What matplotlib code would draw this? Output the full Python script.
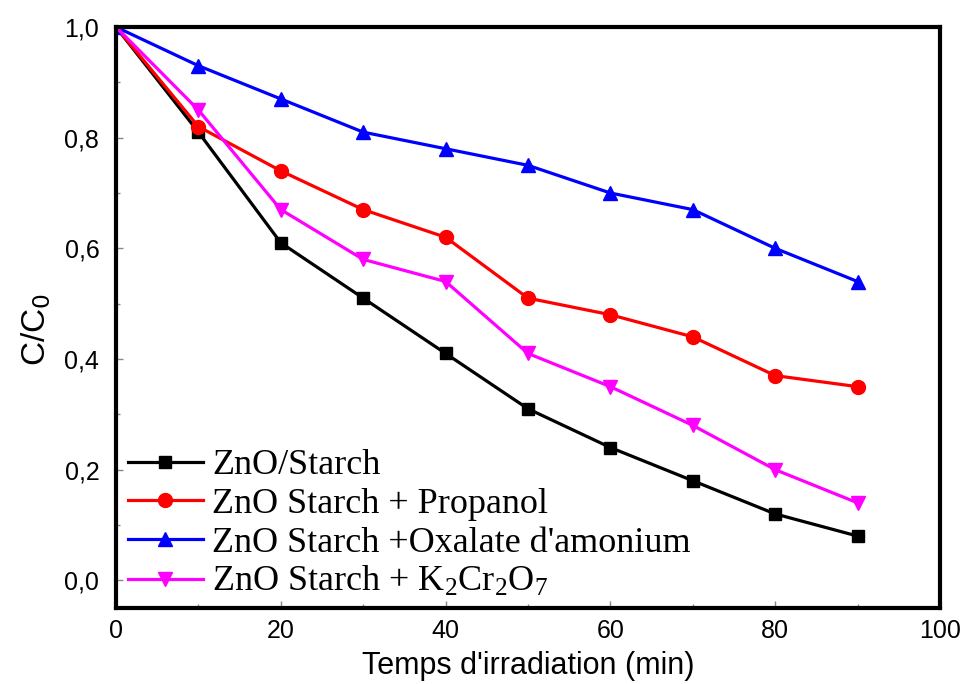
import matplotlib
matplotlib.use("Agg")
import matplotlib.pyplot as plt
from matplotlib.ticker import FuncFormatter, MultipleLocator

time = [0, 10, 20, 30, 40, 50, 60, 70, 80, 90]
zno_starch = [1.0, 0.81, 0.61, 0.51, 0.41, 0.31, 0.24, 0.18, 0.12, 0.08]
propanol = [1.0, 0.82, 0.74, 0.67, 0.62, 0.51, 0.48, 0.44, 0.37, 0.35]
oxalate = [1.0, 0.93, 0.87, 0.81, 0.78, 0.75, 0.70, 0.67, 0.60, 0.54]
k2cr2o7 = [1.0, 0.85, 0.67, 0.58, 0.54, 0.41, 0.35, 0.28, 0.20, 0.14]

labels = ["ZnO/Starch", "ZnO Starch + Propanol", "ZnO Starch +Oxalate d'amonium",
          r"ZnO Starch + K$_2$Cr$_2$O$_7$"]

plt.rcParams['mathtext.fontset'] = 'custom'
plt.rcParams['mathtext.rm'] = 'Liberation Serif'
plt.rcParams['mathtext.it'] = 'Liberation Serif:italic'

fig = plt.figure(figsize=(9.64, 6.84), dpi=100)
ax = fig.add_axes([116/964, 1-608/684, (940-116)/964, (608-27)/684])

lw = 2.3
ms = 9
ax.plot(time, zno_starch, color='black', marker='s', lw=lw, ms=ms, label=labels[0])
ax.plot(time, propanol, color='red', marker='o', lw=lw, ms=ms+1, label=labels[1])
ax.plot(time, oxalate, color='blue', marker='^', lw=lw, ms=ms+1, label=labels[2])
ax.plot(time, k2cr2o7, color='magenta', marker='v', lw=lw, ms=ms+1, label=labels[3])

ax.set_xlim(0, 100)
ax.set_ylim(-0.05, 1.0)
ax.xaxis.set_major_locator(MultipleLocator(20))
ax.xaxis.set_minor_locator(MultipleLocator(10))
ax.yaxis.set_major_locator(MultipleLocator(0.2))
ax.yaxis.set_minor_locator(MultipleLocator(0.1))
ax.yaxis.set_major_formatter(FuncFormatter(lambda v, p: f"{v:.1f}".replace('.', ',')))
ax.xaxis.set_major_formatter(FuncFormatter(lambda v, p: f"{v:.0f}"))

ax.tick_params(which='both', direction='in', labelsize=18, width=1, color='#888888')
ax.tick_params(which='major', length=5, pad=8)
ax.tick_params(axis='y', which='major', pad=12)
ax.tick_params(which='minor', length=3)
for lab in ax.get_xticklabels() + ax.get_yticklabels():
    lab.set_fontfamily('Liberation Sans')

for s in ax.spines.values():
    s.set_linewidth(3)

ax.set_xlabel("Temps d'irradiation (min)", fontsize=22, family='Liberation Sans', labelpad=6)
ax.set_ylabel(r"C/C$_0$", fontsize=24, family='Liberation Sans')
ax.yaxis.label.set_math_fontfamily('dejavusans')
ax.yaxis.set_label_coords(-0.077, 0.48)

leg = ax.legend(loc='lower left', frameon=False, prop={'family': 'Liberation Serif', 'size': 26},
                handlelength=2.1, labelspacing=0.15, borderaxespad=0.0, borderpad=0.0,
                handletextpad=0.25, bbox_to_anchor=(0.014, 0.015))

fig.savefig("out.png", dpi=100)
